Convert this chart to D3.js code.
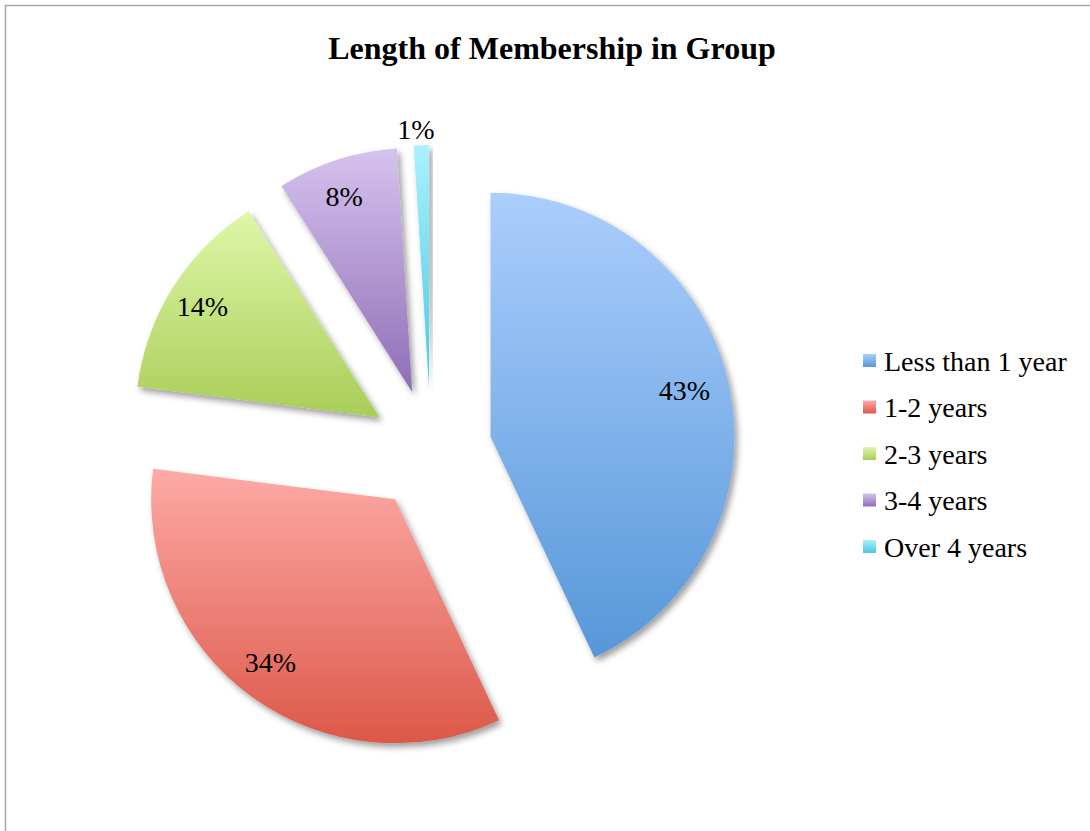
<!DOCTYPE html>
<html>
<head>
<meta charset="utf-8">
<script src="https://cdn.jsdelivr.net/npm/d3@7"></script>
<style>
  html, body { margin: 0; padding: 0; background: #fff; }
  svg { display: block; }
</style>
</head>
<body>
<svg id="chart" width="1090" height="831"></svg>
<script>
// ---- data ----
const categories = ["Less than 1 year", "1-2 years", "2-3 years", "3-4 years", "Over 4 years"];
const values = [43, 34, 14, 8, 1];
const valueLabels = ["43%", "34%", "14%", "8%", "1%"];
const title = "Length of Membership in Group";

// ---- styles ----
const topColors = ["#abcefc", "#fdaaa6", "#dff7a9", "#d6c2ee", "#a9f1fd"];
const bottomColors = ["#5797d9", "#dc5849", "#a9cd58", "#8f6db6", "#4ac8e0"];

const W = 1090, H = 831;
const cx = 431, cy = 450, R = 244, explode = 61;
const serif = "'Liberation Serif', 'Times New Roman', serif";

const svg = d3.select("#chart");
const defs = svg.append("defs");

// gradients
categories.forEach((c, i) => {
  const g = defs.append("linearGradient")
    .attr("id", "grad" + i)
    .attr("x1", 0).attr("y1", 0).attr("x2", 0).attr("y2", 1);
  g.append("stop").attr("offset", "0%").attr("stop-color", topColors[i]);
  g.append("stop").attr("offset", "100%").attr("stop-color", bottomColors[i]);
});

// shadow
const f = defs.append("filter").attr("id", "shadow")
  .attr("x", "-10%").attr("y", "-10%").attr("width", "130%").attr("height", "130%");
f.append("feDropShadow")
  .attr("dx", 3).attr("dy", 4).attr("stdDeviation", 3)
  .attr("flood-color", "#000").attr("flood-opacity", 0.38);

// border
svg.append("rect")
  .attr("x", 5.5).attr("y", 5.5).attr("width", W + 20).attr("height", H + 20)
  .attr("fill", "none").attr("stroke", "#a6a6a6").attr("stroke-width", 1.5);

// title
svg.append("text")
  .attr("x", 552).attr("y", 59)
  .attr("text-anchor", "middle")
  .attr("font-family", serif).attr("font-weight", "bold").attr("font-size", 32)
  .attr("fill", "#000")
  .text(title);

// pie
const pie = d3.pie().sort(null).value(d => d).startAngle(0).endAngle(2 * Math.PI);
const arcs = pie(values);
const arc = d3.arc().innerRadius(0).outerRadius(R);

const g = svg.append("g").attr("transform", `translate(${cx},${cy})`);

const slices = g.selectAll("g.slice").data(arcs).enter().append("g")
  .attr("class", "slice")
  .attr("transform", d => {
    const m = (d.startAngle + d.endAngle) / 2;
    return `translate(${explode * Math.sin(m)},${-explode * Math.cos(m)})`;
  });

slices.append("path")
  .attr("d", arc)
  .attr("fill", (d, i) => `url(#grad${i})`)
  .attr("filter", "url(#shadow)");

// labels
slices.append("text")
  .attr("transform", (d, i) => {
    const m = (d.startAngle + d.endAngle) / 2;
    const lr = values[i] < 3 ? R + 14 : R * 0.835;
    return `translate(${lr * Math.sin(m) - 5},${-lr * Math.cos(m) - 2})`;
  })
  .attr("text-anchor", "middle")
  .attr("dy", "0.35em")
  .attr("font-family", serif).attr("font-size", 28)
  .attr("fill", "#000")
  .text((d, i) => valueLabels[i]);

// legend
const legY = d3.scalePoint().domain(categories).range([361, 547]);
const leg = svg.append("g");
const items = leg.selectAll("g").data(categories).enter().append("g")
  .attr("transform", d => `translate(863,${legY(d)})`);
items.append("rect")
  .attr("x", 0).attr("y", -7).attr("width", 13).attr("height", 13)
  .attr("fill", (d, i) => `url(#grad${i})`);
items.append("text")
  .attr("x", 21).attr("y", 0).attr("dy", "0.35em")
  .attr("font-family", serif).attr("font-size", 28)
  .attr("fill", "#000")
  .text(d => d);
</script>
</body>
</html>
